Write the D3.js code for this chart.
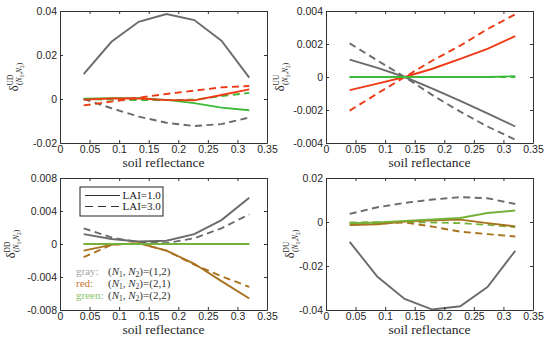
<!DOCTYPE html>
<html>
<head>
<meta charset="utf-8">
<script src="https://cdn.jsdelivr.net/npm/d3@7"></script>
<style>
  body { margin: 0; background: #fff; }
  svg { display: block; }
</style>
</head>
<body>
<div id="chart"></div>
<script>
// soil reflectance values (x)
var soil = [0.04, 0.087, 0.133, 0.18, 0.227, 0.273, 0.32];
var xTicks = [0, 0.05, 0.1, 0.15, 0.2, 0.25, 0.3, 0.35];

// UD panel
var udGraySolid = [0.0113, 0.026, 0.0351, 0.0386, 0.0359, 0.0265, 0.0097];
var udGrayDash = [0.0, -0.0042, -0.008, -0.0108, -0.0123, -0.0114, -0.0084];
var udRedSolid = [-0.0003, 0.0002, 0.0002, -0.0005, -0.0006, 0.0018, 0.0044];
var udRedDash = [-0.0029, -0.0012, 0.0006, 0.0023, 0.0038, 0.0053, 0.0059];
var udGreenSolid = [0.0001, 0.0004, 0.0004, -0.0004, -0.0019, -0.0039, -0.0051];
var udGreenDash = [0.0, -0.0003, -0.0005, -0.0005, -0.0003, 0.0013, 0.0028];
var udTicks = [-0.02, 0, 0.02, 0.04];

// UU panel
var uuGraySolid = [0.00105, 0.00055, 0.0, -0.0007, -0.00145, -0.0022, -0.003];
var uuGrayDash = [0.00204, 0.001, 0.0, -0.0011, -0.0021, -0.003, -0.0038];
var uuRedSolid = [-0.0008, -0.0004, 0.0, 0.0005, 0.0011, 0.0017, 0.00248];
var uuRedDash = [-0.00204, -0.001, 0.0, 0.001, 0.0019, 0.0029, 0.0038];
var uuGreenSolid = [0.0, 0.0, 0.0, 0.0, 0.0, 0.0, 0.00005];
var uuGreenDash = [0.0, 0.0, 0.0, 0.0, 0.0, 0.0, 0.0];
var uuTicks = [-0.004, -0.002, 0, 0.002, 0.004];

// DD panel
var ddGraySolid = [0.0012, 0.0006, 0.0003, 0.0004, 0.0012, 0.0029, 0.0056];
var ddGrayDash = [0.0019, 0.0008, 0.0002, 0.0001, 0.0007, 0.0019, 0.0036];
var ddRedSolid = [-0.0008, -0.0001, 0.0001, -0.0008, -0.0024, -0.0045, -0.0066];
var ddRedDash = [-0.0016, -0.0001, 0.0001, -0.0008, -0.0025, -0.0039, -0.0052];
var ddGreenSolid = [0.0, 0.0, 0.0, 0.0, 0.0, 0.0, 0.0];
var ddGreenDash = [0.0, 0.0, 0.0, 0.0, 0.0, 0.0, 0.0];
var ddTicks = [-0.008, -0.004, 0, 0.004, 0.008];

// DU panel
var duGraySolid = [-0.009, -0.0249, -0.035, -0.0398, -0.0383, -0.0296, -0.0131];
var duGrayDash = [0.0037, 0.0067, 0.0087, 0.0102, 0.0113, 0.0108, 0.0082];
var duRedSolid = [-0.0014, -0.001, 0.0002, 0.0008, 0.0011, -0.0005, -0.002];
var duRedDash = [-0.001, -0.0007, -0.0002, -0.0021, -0.0044, -0.0055, -0.0066];
var duGreenSolid = [-0.0006, -0.0002, 0.0005, 0.0012, 0.0018, 0.0041, 0.0052];
var duGreenDash = [-0.0002, -0.0001, 0.0, -0.0002, -0.0005, -0.0013, -0.0023];
var duTicks = [-0.04, -0.02, 0, 0.02];

var grayC = "#6b6b6b";
var redTop = "#ee3b16";
var greenTop = "#3dba3a";
var redBot = "#a8721e";
var greenBot = "#76b23a";

var serif = "'Liberation Serif', 'Times New Roman', serif";
var sans = "'Liberation Sans', Arial, sans-serif";

var W = 550, H = 344;
var svg = d3.select("#chart").append("svg").attr("width", W).attr("height", H);

var panels = [
  { key: "UD", x0: 60, y0: 11, yd: [-0.02, 0.04], ticks: udTicks, lab: 18,
    series: [[udGraySolid, grayC, 0], [udGrayDash, grayC, 1], [udGreenSolid, greenTop, 0],
             [udGreenDash, greenTop, 1], [udRedDash, redTop, 1], [udRedSolid, redTop, 0]] },
  { key: "UU", x0: 326, y0: 11, yd: [-0.004, 0.004], ticks: uuTicks, lab: 284,
    series: [[uuGraySolid, grayC, 0], [uuGrayDash, grayC, 1], [uuRedSolid, redTop, 0],
             [uuRedDash, redTop, 1], [uuGreenDash, greenTop, 1], [uuGreenSolid, greenTop, 0]] },
  { key: "DD", x0: 60, y0: 178, yd: [-0.008, 0.008], ticks: ddTicks, lab: 15,
    series: [[ddGraySolid, grayC, 0], [ddGrayDash, grayC, 1], [ddRedDash, redBot, 1],
             [ddRedSolid, redBot, 0], [ddGreenDash, greenBot, 1], [ddGreenSolid, greenBot, 0]] },
  { key: "DU", x0: 326, y0: 178, yd: [-0.04, 0.02], ticks: duTicks, lab: 294,
    series: [[duGraySolid, grayC, 0], [duGrayDash, grayC, 1], [duRedDash, redBot, 1],
             [duGreenDash, greenBot, 1], [duRedSolid, redBot, 0], [duGreenSolid, greenBot, 0]] }
];

var pw = 207, ph = 132;
var fmt = function (d) { return d === 0 ? "0" : String(d); };

panels.forEach(function (p) {
  var g = svg.append("g").attr("transform", "translate(" + p.x0 + "," + p.y0 + ")");
  var x = d3.scaleLinear([0, 0.35], [0, pw]);
  var y = d3.scaleLinear(p.yd, [ph, 0]);

  var line = d3.line()
    .x(function (d, i) { return x(soil[i]); })
    .y(function (d) { return y(d); });

  p.series.forEach(function (s) {
    g.append("path")
      .attr("d", line(s[0]))
      .attr("fill", "none")
      .attr("stroke", s[1])
      .attr("stroke-width", 1.9)
      .attr("stroke-dasharray", s[2] ? "7,4.5" : null);
  });

  // box and ticks (inside, matlab style)
  var ax = [
    [d3.axisBottom(x).tickValues(xTicks).tickFormat(fmt), 0, ph],
    [d3.axisTop(x).tickValues(xTicks).tickFormat(""), 0, 0],
    [d3.axisLeft(y).tickValues(p.ticks).tickFormat(fmt), 0, 0],
    [d3.axisRight(y).tickValues(p.ticks).tickFormat(""), pw, 0]
  ];
  ax.forEach(function (a) {
    var ag = g.append("g")
      .attr("transform", "translate(" + a[1] + "," + a[2] + ")")
      .call(a[0].tickSizeInner(-3).tickSizeOuter(0).tickPadding(3));
    ag.select(".domain").attr("stroke", "#333").attr("stroke-width", 1);
    ag.selectAll(".tick line").attr("stroke", "#333");
    ag.selectAll("text")
      .attr("fill", "#262626")
      .style("font-family", sans)
      .style("font-size", "10.5px");
  });

  g.append("text")
    .attr("x", pw / 2)
    .attr("y", ph + 24)
    .attr("text-anchor", "middle")
    .style("font-family", serif)
    .style("font-size", "13.5px")
    .attr("fill", "#262626")
    .text("soil reflectance");

  // y label delta^{key}_{(N1,N2)}
  var yl = svg.append("text")
    .attr("transform", "translate(" + p.lab + "," + (p.y0 + ph / 2) + ") rotate(-90)")
    .attr("text-anchor", "middle")
    .attr("fill", "#262626")
    .style("font-family", serif)
    .style("font-size", "12.5px");
  yl.append("tspan").text("δ");
  yl.append("tspan").attr("dy", -5).style("font-size", "7.5px").text(p.key);
  var sub = yl.append("tspan").attr("dx", -(p.key.length * 5.2)).attr("dy", 9).style("font-size", "7.5px");
  sub.append("tspan").text("(");
  sub.append("tspan").style("font-style", "italic").text("N");
  sub.append("tspan").attr("dy", 1.5).style("font-size", "5.5px").text("1");
  sub.append("tspan").attr("dy", -1.5).text(",");
  sub.append("tspan").style("font-style", "italic").text("N");
  sub.append("tspan").attr("dy", 1.5).style("font-size", "5.5px").text("2");
  sub.append("tspan").attr("dy", -1.5).text(")");
});

// legend (DD panel)
var lg = svg.append("g");
lg.append("rect").attr("x", 80).attr("y", 187).attr("width", 83).attr("height", 29)
  .attr("fill", "#fff").attr("stroke", "#222").attr("stroke-width", 1);
var legendItems = [["LAI=1.0", 0], ["LAI=3.0", 1]];
legendItems.forEach(function (d, i) {
  var yy = 195.5 + i * 11;
  lg.append("line").attr("x1", 85).attr("x2", d[1] ? 119 : 120).attr("y1", yy).attr("y2", yy)
    .attr("stroke", "#333").attr("stroke-width", 1.1)
    .attr("stroke-dasharray", d[1] ? "8,5" : null);
  lg.append("text").attr("x", 122.5).attr("y", yy + 3.8)
    .style("font-family", serif)
    .style("font-size", "11px").attr("fill", "#222").text(d[0]);
});

// colour key
var colorKey = [["gray:", "#a3a3a3", "1,2"], ["red:", "#c77a35", "2,1"], ["green:", "#8cc46a", "2,2"]];
colorKey.forEach(function (d, i) {
  var yy = 274.5 + i * 12;
  svg.append("text").attr("x", 76).attr("y", yy)
    .style("font-family", serif)
    .style("font-size", "11px").attr("fill", d[1]).text(d[0]);
  var t = svg.append("text").attr("x", 108).attr("y", yy)
    .style("font-family", serif)
    .style("font-size", "11px").attr("fill", "#333");
  t.append("tspan").text("(");
  t.append("tspan").style("font-style", "italic").text("N");
  t.append("tspan").attr("dy", 2).style("font-size", "7.5px").text("1");
  t.append("tspan").attr("dy", -2).text(", ");
  t.append("tspan").style("font-style", "italic").text("N");
  t.append("tspan").attr("dy", 2).style("font-size", "7.5px").text("2");
  t.append("tspan").attr("dy", -2).text(")=(" + d[2] + ")");
});
</script>
</body>
</html>
